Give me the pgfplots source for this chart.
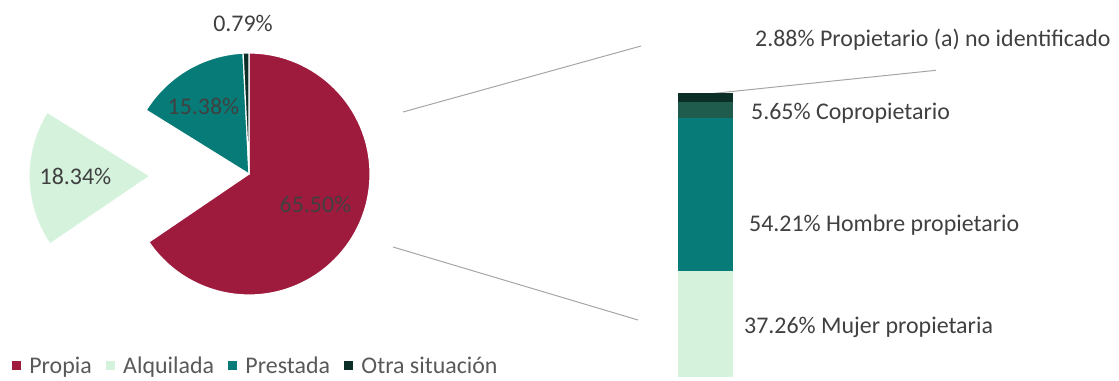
\documentclass[border=0pt]{standalone}
\usepackage{fontspec}
\setmainfont{Carlito}
\usepackage{pgfplots}
\pgfplotsset{compat=1.18}
\definecolor{propia}{HTML}{9E1B3E}
\definecolor{alquilada}{HTML}{D5F2DD}
\definecolor{prestada}{HTML}{077B77}
\definecolor{otra}{HTML}{0B2E26}
\definecolor{copro}{HTML}{1F5C4E}
\definecolor{txt}{HTML}{404040}
\definecolor{legtxt}{HTML}{595959}
\definecolor{ln}{HTML}{A6A6A6}
% pie values (percent)
\def\vPropia{65.50}
\def\vAlquilada{18.34}
\def\vPrestada{15.38}
\def\vOtra{0.79}
\begin{document}
\begin{tikzpicture}[font=\fontsize{24}{29}\selectfont]
\pgfmathsetmacro{\aA}{90}
\pgfmathsetmacro{\aB}{\aA-3.6*\vPropia}
\pgfmathsetmacro{\aC}{\aB-3.6*\vAlquilada}
\pgfmathsetmacro{\aD}{\aC-3.6*\vPrestada}
\pgfmathsetmacro{\aE}{\aD-3.6*\vOtra}
\begin{axis}[at={(0bp,0bp)}, anchor=south west, scale only axis,
  width=1119bp, height=381bp, xmin=0, xmax=1119, ymin=0, ymax=381,
  hide axis, clip=false,
  legend columns=4,
  legend image code/.code={\fill[#1] (0bp,-3bp) rectangle (8bp,5bp);},
  legend style={at={(12/1119,15/381)}, anchor=west, draw=none, fill=none,
    inner sep=0pt, outer sep=0pt, font=\fontsize{24}{29}\selectfont\color{legtxt},
    nodes={inner sep=0pt},
    /tikz/every odd column/.append style={column sep=9bp},
    /tikz/every even column/.append style={column sep=14bp}},
]
\path (axis cs:0,0) (axis cs:1119,381);
% pie slices
\fill[propia, draw=white, line width=1.2bp] (axis cs:249,207) -- ++(\aA:121bp) arc[start angle=\aA, end angle=\aB, radius=121bp] -- cycle;
\fill[alquilada, draw=white, line width=1.2bp] (axis cs:150,205) -- ++(\aB:121bp) arc[start angle=\aB, end angle=\aC, radius=121bp] -- cycle;
\fill[prestada, draw=white, line width=1.2bp] (axis cs:249,207) -- ++(\aC:121bp) arc[start angle=\aC, end angle=\aD, radius=121bp] -- cycle;
\fill[otra, draw=white, line width=1.2bp] (axis cs:249,207) -- ++(\aD:121bp) arc[start angle=\aD, end angle=\aE, radius=121bp] -- cycle;
% pie labels
\node[txt, anchor=base, inner sep=0pt] at (axis cs:243,349.3) {0.79\%};
\node[txt, anchor=base, inner sep=0pt] at (axis cs:203.5,266) {15.38\%};
\node[txt, anchor=base, inner sep=0pt] at (axis cs:75.5,196) {18.34\%};
\node[txt, anchor=base, inner sep=0pt] at (axis cs:315.5,168.3) {65.50\%};
% connector lines
\draw[ln, line width=1bp] (axis cs:403,269) -- (axis cs:641,335);
\draw[ln, line width=1bp] (axis cs:393,134) -- (axis cs:638,61);
\draw[ln, line width=1bp] (axis cs:705,286.7) -- (axis cs:936,310.7);
% bar labels
\node[txt, anchor=base west, inner sep=0pt] at (axis cs:755,334.3) {2.88\% Propietario (a) no identificado};
\node[txt, anchor=base west, inner sep=0pt] at (axis cs:751,261.7) {5.65\% Copropietario};
\node[txt, anchor=base west, inner sep=0pt] at (axis cs:749,149.3) {54.21\% Hombre propietario};
\node[txt, anchor=base west, inner sep=0pt] at (axis cs:744,47.7) {37.26\% Mujer propietaria};
% legend
\addlegendimage{propia}\addlegendentry{Propia}
\addlegendimage{alquilada}\addlegendentry{Alquilada}
\addlegendimage{prestada}\addlegendentry{Prestada}
\addlegendimage{otra}\addlegendentry{Otra situación}
\end{axis}
\begin{axis}[at={(678bp,4bp)}, anchor=south west, scale only axis,
  width=55bp, height=283.5bp, hide axis, clip=false,
  ybar stacked, bar width=55bp, xmin=-0.5, xmax=0.5, ymin=0, ymax=100]
\addplot[fill=alquilada, draw=none] coordinates {(0,37.26)};
\addplot[fill=prestada, draw=none] coordinates {(0,54.21)};
\addplot[fill=copro, draw=none] coordinates {(0,5.65)};
\addplot[fill=otra, draw=none] coordinates {(0,2.88)};
\end{axis}
\end{tikzpicture}
\end{document}
